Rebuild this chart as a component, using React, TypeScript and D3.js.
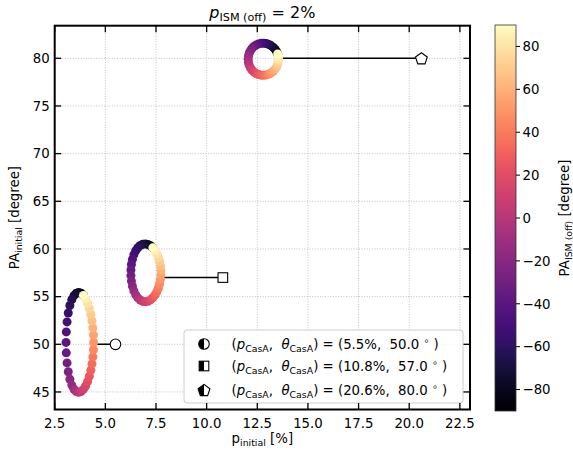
import React from 'react';
import * as d3 from 'd3';

// ---- data ----
const thetaISM = [-90, -85, -80, -75, -70, -65, -60, -55, -50, -45, -40, -35, -30, -25, -20, -15, -10, -5, 0, 5, 10, 15, 20, 25, 30, 35, 40, 45, 50, 55, 60, 65, 70, 75, 80, 85, 90];

const pInit1 = [3.916, 3.802, 3.684, 3.565, 3.451, 3.344, 3.249, 3.169, 3.110, 3.072, 3.060, 3.072, 3.110, 3.169, 3.249, 3.344, 3.451, 3.565, 3.684, 3.802, 3.916, 4.024, 4.123, 4.209, 4.283, 4.342, 4.385, 4.412, 4.420, 4.412, 4.385, 4.342, 4.283, 4.209, 4.123, 4.024, 3.916];
const paInit1 = [55.13, 55.35, 55.44, 55.36, 55.11, 54.68, 54.07, 53.28, 52.35, 51.30, 50.20, 49.10, 48.05, 47.12, 46.33, 45.72, 45.29, 45.04, 44.96, 45.05, 45.27, 45.63, 46.09, 46.65, 47.27, 47.95, 48.68, 49.43, 50.20, 50.97, 51.72, 52.45, 53.13, 53.75, 54.31, 54.77, 55.13];

const pInit2 = [7.344, 7.228, 7.102, 6.975, 6.846, 6.721, 6.603, 6.498, 6.408, 6.338, 6.288, 6.263, 6.263, 6.288, 6.338, 6.408, 6.498, 6.603, 6.721, 6.846, 6.975, 7.102, 7.228, 7.344, 7.450, 7.541, 7.618, 7.676, 7.717, 7.737, 7.737, 7.717, 7.676, 7.618, 7.541, 7.450, 7.344];
const paInit2 = [60.12, 60.34, 60.48, 60.53, 60.50, 60.36, 60.13, 59.81, 59.40, 58.91, 58.37, 57.79, 57.21, 56.63, 56.09, 55.60, 55.19, 54.87, 54.64, 54.50, 54.47, 54.52, 54.66, 54.88, 55.17, 55.51, 55.90, 56.33, 56.79, 57.26, 57.74, 58.21, 58.67, 59.10, 59.49, 59.83, 60.12];

const pInit3 = [13.507, 13.455, 13.384, 13.294, 13.191, 13.076, 12.951, 12.822, 12.692, 12.563, 12.442, 12.331, 12.234, 12.156, 12.098, 12.062, 12.050, 12.062, 12.098, 12.156, 12.234, 12.331, 12.442, 12.563, 12.692, 12.822, 12.951, 13.076, 13.191, 13.294, 13.384, 13.455, 13.507, 13.540, 13.550, 13.540, 13.507];
const paInit3 = [80.45, 80.70, 80.93, 81.14, 81.31, 81.45, 81.54, 81.58, 81.57, 81.51, 81.40, 81.24, 81.03, 80.78, 80.51, 80.21, 79.90, 79.59, 79.29, 79.02, 78.77, 78.56, 78.40, 78.29, 78.23, 78.22, 78.26, 78.35, 78.49, 78.66, 78.87, 79.10, 79.36, 79.63, 79.90, 80.17, 80.45];

const pCasA = [5.5, 10.8, 20.6];
const thetaCasA = [50.0, 57.0, 80.0];
const lineEndP = [4.42, 7.74, 13.55];
const pLabels = ['5.5', '10.8', '20.6'];
const thLabels = ['50.0', '57.0', '80.0'];
const markerKinds = ['circle', 'square', 'pentagon'];

const xTicks = [2.5, 5.0, 7.5, 10.0, 12.5, 15.0, 17.5, 20.0, 22.5];
const yTicks = [45, 50, 55, 60, 65, 70, 75, 80];
const cbTicks = [-80, -60, -40, -20, 0, 20, 40, 60, 80];

const FONT = 'DejaVu Sans, Verdana, sans-serif';

const W = 573, H = 458;
const L = 54.7, R = 470, T = 25.7, B = 409.5;

function pentagonPoints(cx: number, cy: number, r: number) {
  const pts: string[] = [];
  for (let k = 0; k < 5; k++) {
    const a = (-90 + 72 * k) * Math.PI / 180;
    pts.push(`${cx + r * Math.cos(a)},${cy + r * Math.sin(a)}`);
  }
  return pts.join(' ');
}

function Marker({ kind, cx, cy, half }: { kind: string; cx: number; cy: number; half?: boolean }) {
  const id = `clip-${kind}-${Math.round(cx)}-${Math.round(cy)}`;
  if (kind === 'circle') {
    const r = 5.3;
    return (
      <g>
        <circle cx={cx} cy={cy} r={r} fill="white" />
        {half && <path d={`M${cx},${cy - r} A${r},${r} 0 0 0 ${cx},${cy + r} Z`} fill="black" />}
        <circle cx={cx} cy={cy} r={r} fill="none" stroke="black" strokeWidth={1.1} />
      </g>
    );
  }
  if (kind === 'square') {
    const s = 9.6;
    return (
      <g>
        <rect x={cx - s / 2} y={cy - s / 2} width={s} height={s} fill="white" />
        {half && <rect x={cx - s / 2} y={cy - s / 2} width={s / 2} height={s} fill="black" />}
        <rect x={cx - s / 2} y={cy - s / 2} width={s} height={s} fill="none" stroke="black" strokeWidth={1.1} />
      </g>
    );
  }
  const r = 6.2;
  const pts = pentagonPoints(cx, cy + 0.6, r);
  return (
    <g>
      <defs>
        <clipPath id={id}>
          <rect x={cx - 10} y={cy - 10} width={10} height={20} />
        </clipPath>
      </defs>
      <polygon points={pts} fill="white" />
      {half && <polygon points={pts} fill="black" clipPath={`url(#${id})`} />}
      <polygon points={pts} fill="none" stroke="black" strokeWidth={1.1} strokeLinejoin="miter" />
    </g>
  );
}

export default function App() {
  const x = d3.scaleLinear().domain([2.5, 23.0]).range([L, R]);
  const y = d3.scaleLinear().domain([43.16, 83.42]).range([B, T]);
  const color = d3.scaleSequential(d3.interpolateMagma).domain([-90, 90]);
  const cbT = 25, cbB = 411, cbL = 495, cbR = 516;
  const cbY = d3.scaleLinear().domain([-90, 90]).range([cbB, cbT]);

  const sets = [
    { p: pInit1, pa: paInit1 },
    { p: pInit2, pa: paInit2 },
    { p: pInit3, pa: paInit3 },
  ];

  const stops = d3.range(0, 1.0001, 0.02);

  const legX = 184, legY = 330, legW = 279, legH = 73;
  const legRows = [344, 366, 390];

  return (
    <svg width={W} height={H} style={{ position: 'absolute', left: 0, top: 0, fontFamily: FONT }}>
      <defs>
        <linearGradient id="magma" x1="0" y1="1" x2="0" y2="0">
          {stops.map((t, i) => (
            <stop key={i} offset={t} stopColor={d3.interpolateMagma(t)} />
          ))}
        </linearGradient>
        <clipPath id="plotclip">
          <rect x={L} y={T} width={R - L} height={B - T} />
        </clipPath>
      </defs>
      <rect x={0} y={0} width={W} height={H} fill="white" />

      {/* grid */}
      <g stroke="#b0b0b0" strokeWidth={0.8} strokeDasharray="1,1.6">
        {xTicks.map((t) => (
          <line key={'gx' + t} x1={x(t)} x2={x(t)} y1={T} y2={B} />
        ))}
        {yTicks.map((t) => (
          <line key={'gy' + t} x1={L} x2={R} y1={y(t)} y2={y(t)} />
        ))}
      </g>

      {/* connecting lines */}
      <g clipPath="url(#plotclip)">
        {pCasA.map((p, i) => (
          <line key={'ln' + i} x1={x(lineEndP[i])} x2={x(p)} y1={y(thetaCasA[i])} y2={y(thetaCasA[i])} stroke="black" strokeWidth={1.5} />
        ))}
        {/* scatter points */}
        {sets.map((s, si) => (
          <g key={'set' + si}>
            {thetaISM.map((th, k) => (
              <circle key={k} cx={x(s.p[k])} cy={y(s.pa[k])} r={4.5} fill={color(th)} />
            ))}
          </g>
        ))}
        {pCasA.map((p, i) => (
          <Marker key={'mk' + i} kind={markerKinds[i]} cx={x(p)} cy={y(thetaCasA[i])} />
        ))}
      </g>

      {/* legend */}
      <rect x={legX} y={legY} width={legW} height={legH} rx={3} ry={3} fill="white" fillOpacity={0.85} stroke="#cccccc" strokeWidth={1} />
      {legRows.map((ry, i) => (
        <g key={'leg' + i}>
          <Marker kind={markerKinds[i]} cx={204} cy={ry} half />
          <text x={231.5} y={ry + 5} fontSize={13.3} style={{ whiteSpace: 'pre' }} fill="black">
            <tspan>(</tspan>
            <tspan fontStyle="italic">p</tspan>
            <tspan fontSize={9.4} dy={2.8}>CasA</tspan>
            <tspan dy={-2.8}>{',  '}</tspan>
            <tspan fontStyle="italic">θ</tspan>
            <tspan fontSize={9.4} dy={2.8}>CasA</tspan>
            <tspan dy={-2.8}>{') = ('}</tspan>
            <tspan>{pLabels[i] + '%,  ' + thLabels[i] + ' '}</tspan>
            <tspan fontSize={9.4} dy={-5}>∘</tspan>
            <tspan dy={5}>{' )'}</tspan>
          </text>
        </g>
      ))}

      {/* ticks (inward, all four sides) */}
      <g stroke="black" strokeWidth={1.3}>
        {xTicks.map((t) => (
          <g key={'tx' + t}>
            <line x1={x(t)} x2={x(t)} y1={B} y2={B - 6.5} />
            <line x1={x(t)} x2={x(t)} y1={T} y2={T + 6.5} />
          </g>
        ))}
        {yTicks.map((t) => (
          <g key={'ty' + t}>
            <line x1={L} x2={L + 6.5} y1={y(t)} y2={y(t)} />
            <line x1={R} x2={R - 6.5} y1={y(t)} y2={y(t)} />
          </g>
        ))}
      </g>

      {/* frame */}
      <rect x={L} y={T} width={R - L} height={B - T} fill="none" stroke="black" strokeWidth={2} />

      {/* tick labels */}
      <g fontSize={13.3} fill="black">
        {xTicks.map((t) => (
          <text key={'lx' + t} x={x(t)} y={B + 18} textAnchor="middle">{t.toFixed(1)}</text>
        ))}
        {yTicks.map((t) => (
          <text key={'ly' + t} x={L - 5} y={y(t)} dy="0.36em" textAnchor="end">{t}</text>
        ))}
      </g>

      {/* axis labels */}
      <text x={(L + R) / 2} y={443} textAnchor="middle" fontSize={13.3}>
        <tspan>p</tspan>
        <tspan fontSize={9.4} dy={2.8}>initial</tspan>
        <tspan dy={-2.8}>{' [%]'}</tspan>
      </text>
      <text transform={`translate(19,${(T + B) / 2}) rotate(-90)`} textAnchor="middle" fontSize={13.3}>
        <tspan>PA</tspan>
        <tspan fontSize={9.4} dy={2.8}>initial</tspan>
        <tspan dy={-2.8}>{' [degree]'}</tspan>
      </text>

      {/* title */}
      <text x={(L + R) / 2} y={18} textAnchor="middle" fontSize={16} style={{ whiteSpace: 'pre' }}>
        <tspan fontStyle="italic">p</tspan>
        <tspan fontSize={11.2} dy={3.2}>ISM (off)</tspan>
        <tspan dy={-3.2}>{' = 2%'}</tspan>
      </text>

      {/* colorbar */}
      <rect x={cbL} y={cbT} width={cbR - cbL} height={cbB - cbT} fill="url(#magma)" stroke="#333" strokeWidth={0.8} />
      <g stroke="black" strokeWidth={1}>
        {cbTicks.map((t) => (
          <line key={'ct' + t} x1={cbR} x2={cbR + 4} y1={cbY(t)} y2={cbY(t)} />
        ))}
      </g>
      <g fontSize={13.3}>
        {cbTicks.map((t) => (
          <text key={'cl' + t} x={cbR + 6.5} y={cbY(t)} dy="0.36em">{t < 0 ? '\u2212' + Math.abs(t) : String(t)}</text>
        ))}
      </g>
      <text transform={`translate(569,${(cbT + cbB) / 2}) rotate(-90)`} textAnchor="middle" fontSize={13.3} style={{ whiteSpace: 'pre' }}>
        <tspan>PA</tspan>
        <tspan fontSize={9.4} dy={2.8}>ISM (off)</tspan>
        <tspan dy={-2.8}>{' [degree]'}</tspan>
      </text>
    </svg>
  );
}
